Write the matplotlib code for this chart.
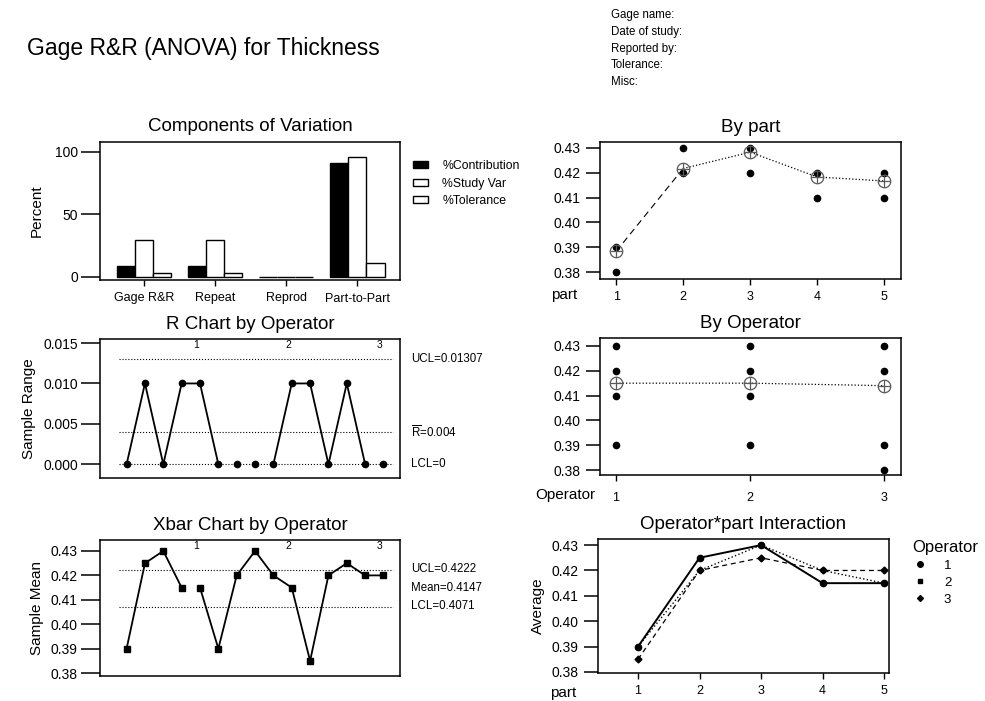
import numpy as np
from matplotlib import pyplot as plt
from matplotlib.patches import Rectangle
from matplotlib.lines import Line2D

plt.rcParams['font.family'] = ['Liberation Sans', 'DejaVu Sans']
plt.rcParams['mathtext.fontset'] = 'custom'
plt.rcParams['mathtext.rm'] = 'Liberation Sans'

# components of variation (percent)
components = ['Gage R&R', 'Repeat', 'Reprod', 'Part-to-Part']
pct_contribution = [8.5, 8.5, 0.0, 91.5]
pct_study_var = [29.2, 29.2, 0.0, 95.7]
pct_tolerance = [3.5, 3.5, 0.0, 11.0]

# R chart / Xbar chart, 3 operators x 5 parts
sample_ranges = [0.0, 0.01, 0.0, 0.01, 0.01, 0.0, 0.0, 0.0, 0.0, 0.01, 0.01, 0.0, 0.01, 0.0, 0.0]
sample_means = [0.39, 0.425, 0.43, 0.415, 0.415, 0.39, 0.42, 0.43, 0.42, 0.415, 0.385, 0.42, 0.425, 0.42, 0.42]
r_segments = [(0, 6), (6, 7), (7, 8), (8, 14), (14, 15)]
xbar_segments = [(0, 4), (4, 15)]
r_ucl, r_bar, r_lcl = 0.01307, 0.004, 0.0
x_ucl, x_mean, x_lcl = 0.4222, 0.4147, 0.4071
operator_names = ['1', '2', '3']

# by part
part_x = [1, 1, 2, 2, 3, 3, 4, 4, 5, 5]
part_y = [0.39, 0.38, 0.43, 0.42, 0.43, 0.42, 0.42, 0.41, 0.42, 0.41]
part_means = [0.3883, 0.4217, 0.4283, 0.4183, 0.4167]

# by operator
op_x = [1, 1, 1, 1, 2, 2, 2, 2, 3, 3, 3, 3]
op_y = [0.43, 0.42, 0.41, 0.39, 0.43, 0.42, 0.41, 0.39, 0.43, 0.42, 0.39, 0.38]
op_means = [0.415, 0.415, 0.414]

# operator*part interaction
parts = [1, 2, 3, 4, 5]
op1_avg = [0.39, 0.425, 0.43, 0.415, 0.415]
op2_avg = [0.39, 0.42, 0.43, 0.42, 0.415]
op3_avg = [0.385, 0.42, 0.425, 0.42, 0.42]

W, H = 985, 701
fig = plt.figure(figsize=(W / 100, H / 100), dpi=100)
yticks3 = [0.38, 0.39, 0.40, 0.41, 0.42, 0.43]
yticklabels3 = ['0.38', '0.39', '0.40', '0.41', '0.42', '0.43']


def box(x0, y0, x1, y1):
    return [x0 / W, 1 - y1 / H, (x1 - x0) / W, (y1 - y0) / H]


def style(ax, ylen=14, ypad=2):
    for s in ax.spines.values():
        s.set_linewidth(1.1)
    ax.tick_params(axis='y', direction='out', length=ylen, width=1.1, pad=ypad, labelsize=10)
    ax.tick_params(axis='x', direction='out', length=4, width=1.0, pad=5, labelsize=9)


fig.text(27 / W, 1 - 48 / H, 'Gage R&R (ANOVA) for Thickness', fontsize=16.5, va='center')
for i, t in enumerate(['Gage name:', 'Date of study:', 'Reported by:', 'Tolerance:', 'Misc:']):
    fig.text(611 / W, 1 - (15 + i * 16.8) / H, t, fontsize=8.3, va='center')

# --- Components of Variation
ax = fig.add_axes(box(100, 142, 400, 280))
x = np.arange(len(components))
w = 0.255
ax.bar(x - w, pct_contribution, w, color='black', edgecolor='black', lw=1)
ax.bar(x, pct_study_var, w, color='white', edgecolor='black', lw=1)
ax.bar(x + w, pct_tolerance, w, color='white', edgecolor='black', lw=1)
ax.set_xlim(-0.62, 3.6)
ax.set_ylim(-2.5, 108)
ax.set_xticks(x)
ax.set_xticklabels(components)
ax.set_yticks([0, 50, 100])
ax.set_ylabel('Percent', fontsize=11, labelpad=8)
ax.set_title('Components of Variation', fontsize=13.5, pad=8)
style(ax)
handles = [Rectangle((0, 0), 1, 1, fc='black', ec='black'),
           Rectangle((0, 0), 1, 1, fc='white', ec='black'),
           Rectangle((0, 0), 1, 1, fc='white', ec='black')]
ax.legend(handles, ['%Contribution', '%Study Var', '%Tolerance'], loc='upper left',
          bbox_to_anchor=(402 / W, 1 - 149 / H), bbox_transform=fig.transFigure,
          frameon=False, fontsize=8.8, handlelength=1.2, handleheight=0.5,
          labelspacing=0.45, handletextpad=1.2)

# --- R chart
ax = fig.add_axes(box(100, 339, 400, 478))
idx = np.arange(1, len(sample_ranges) + 1)
r = np.array(sample_ranges)
for a, b in r_segments:
    ax.plot(idx[a:b], r[a:b], '-o', color='black', lw=1.3, ms=4.5)
for v in [r_ucl, r_bar, r_lcl]:
    ax.hlines(v, 0.6, 15.5, colors='black', linestyles=':', lw=0.8)
ax.set_xlim(-0.45, 15.9)
ax.set_ylim(-0.0017, 0.0155)
ax.set_xticks([])
ax.set_yticks([0, 0.005, 0.010, 0.015])
ax.set_yticklabels(['0.000', '0.005', '0.010', '0.015'])
ax.set_ylabel('Sample Range', fontsize=11, labelpad=5)
ax.set_title('R Chart by Operator', fontsize=13.5, pad=7)
style(ax)
tr = ax.get_yaxis_transform()
ax.text(1.037, r_ucl, 'UCL=0.01307', transform=tr, fontsize=8.3, va='center')
ax.text(1.037, r_bar, r'$\overline{\mathrm{R}}$=0.004', transform=tr, fontsize=8.3, va='center')
ax.text(1.037, r_lcl, 'LCL=0', transform=tr, fontsize=8.3, va='center')
for k, name in enumerate(operator_names):
    ax.text(5 * (k + 1) - 0.2, 0.995, name, transform=ax.get_xaxis_transform(),
            fontsize=7.5, ha='center', va='top')

# --- Xbar chart
ax = fig.add_axes(box(100, 540, 400, 676))
m = np.array(sample_means)
for a, b in xbar_segments:
    ax.plot(idx[a:b], m[a:b], '-s', color='black', lw=1.3, ms=4)
for v in [x_ucl, x_lcl]:
    ax.hlines(v, 0.6, 15.5, colors='black', linestyles=':', lw=0.8)
ax.set_xlim(-0.45, 15.9)
ax.set_ylim(0.3788, 0.4345)
ax.set_xticks([])
ax.set_yticks(yticks3)
ax.set_yticklabels(yticklabels3)
ax.set_ylabel('Sample Mean', fontsize=11, labelpad=5)
ax.set_title('Xbar Chart by Operator', fontsize=13.5, pad=7)
style(ax)
ax.text(1.037, 1 - (569 - 540) / 136, 'UCL=0.4222', transform=ax.transAxes, fontsize=8.3, va='center')
ax.text(1.037, 1 - (588 - 540) / 136, 'Mean=%.4f' % x_mean, transform=ax.transAxes, fontsize=8.3, va='center')
ax.text(1.037, 1 - (606 - 540) / 136, 'LCL=0.4071', transform=ax.transAxes, fontsize=8.3, va='center')
for k, name in enumerate(operator_names):
    ax.text(5 * (k + 1) - 0.2, 0.995, name, transform=ax.get_xaxis_transform(),
            fontsize=7.5, ha='center', va='top')

# --- By part
ax = fig.add_axes(box(600, 142, 901, 279))
ax.plot(part_x, part_y, 'o', color='black', ms=4.5)
ax.plot(parts[:2], part_means[:2], '--', color='black', lw=0.8, dashes=(6, 4))
ax.plot(parts[1:], part_means[1:], ':', color='black', lw=0.9)
ax.plot(parts, part_means, 'o', mfc='none', mec='0.35', ms=9, mew=0.9)
ax.plot(parts, part_means, '+', color='0.35', ms=9, mew=0.9)
ax.set_xlim(0.76, 5.25)
ax.set_ylim(0.3772, 0.4324)
ax.set_xticks(parts)
ax.set_yticks(yticks3)
ax.set_yticklabels(yticklabels3)
ax.set_title('By part', fontsize=13.5, pad=7)
style(ax, ylen=10, ypad=4)
ax.text(-0.076, -(295 - 279) / 137, 'part', transform=ax.transAxes, fontsize=11, ha='right', va='center')

# --- By Operator
ax = fig.add_axes(box(600, 338, 901, 475))
ax.plot(op_x, op_y, 'o', color='black', ms=4.5)
ax.plot([1, 2, 3], op_means, ':', color='black', lw=0.9)
ax.plot([1, 2, 3], op_means, 'o', mfc='none', mec='0.35', ms=9, mew=0.9)
ax.plot([1, 2, 3], op_means, '+', color='0.35', ms=9, mew=0.9)
ax.set_xlim(0.88, 3.13)
ax.set_ylim(0.378, 0.4332)
ax.set_xticks([1, 2, 3])
ax.set_xticklabels(operator_names)
ax.set_yticks(yticks3)
ax.set_yticklabels(yticklabels3)
ax.set_title('By Operator', fontsize=13.5, pad=7)
style(ax, ylen=10, ypad=4)
ax.tick_params(axis='x', pad=8)
ax.text(-0.017, -(495 - 475) / 137, 'Operator', transform=ax.transAxes, fontsize=11, ha='right', va='center')

# --- Interaction
ax = fig.add_axes(box(598, 539, 889, 673))
ax.plot(parts, op1_avg, '-o', color='black', lw=1.4, ms=4.5)
ax.plot(parts, op2_avg, ':s', color='black', lw=1.0, ms=3)
ax.plot(parts, op3_avg, '--D', color='black', lw=0.9, ms=3.5, dashes=(4, 3))
ax.set_xlim(0.35, 5.08)
ax.set_ylim(0.3796, 0.4324)
ax.set_xticks(parts)
ax.set_yticks(yticks3)
ax.set_yticklabels(yticklabels3)
ax.set_ylabel('Average', fontsize=11, labelpad=5)
ax.set_title('Operator*part Interaction', fontsize=13.5, pad=7)
style(ax, ylen=10, ypad=4)
ax.text(-0.076, -(693 - 673) / 134, 'part', transform=ax.transAxes, fontsize=11, ha='right', va='center')
leg_handles = [Line2D([], [], ls='none', marker='o', color='black', ms=4),
               Line2D([], [], ls='none', marker='s', color='black', ms=2.5),
               Line2D([], [], ls='none', marker='D', color='black', ms=3)]
leg = ax.legend(leg_handles, operator_names, title='Operator', loc='upper left',
                bbox_to_anchor=(903 / W, 1 - 531 / H), bbox_transform=fig.transFigure,
                frameon=False, fontsize=9.5, title_fontsize=12, handlelength=1.2,
                handletextpad=1.2, labelspacing=0.35, borderpad=0.2)
leg._legend_box.align = 'left'

fig.savefig('out.png', dpi=100)
